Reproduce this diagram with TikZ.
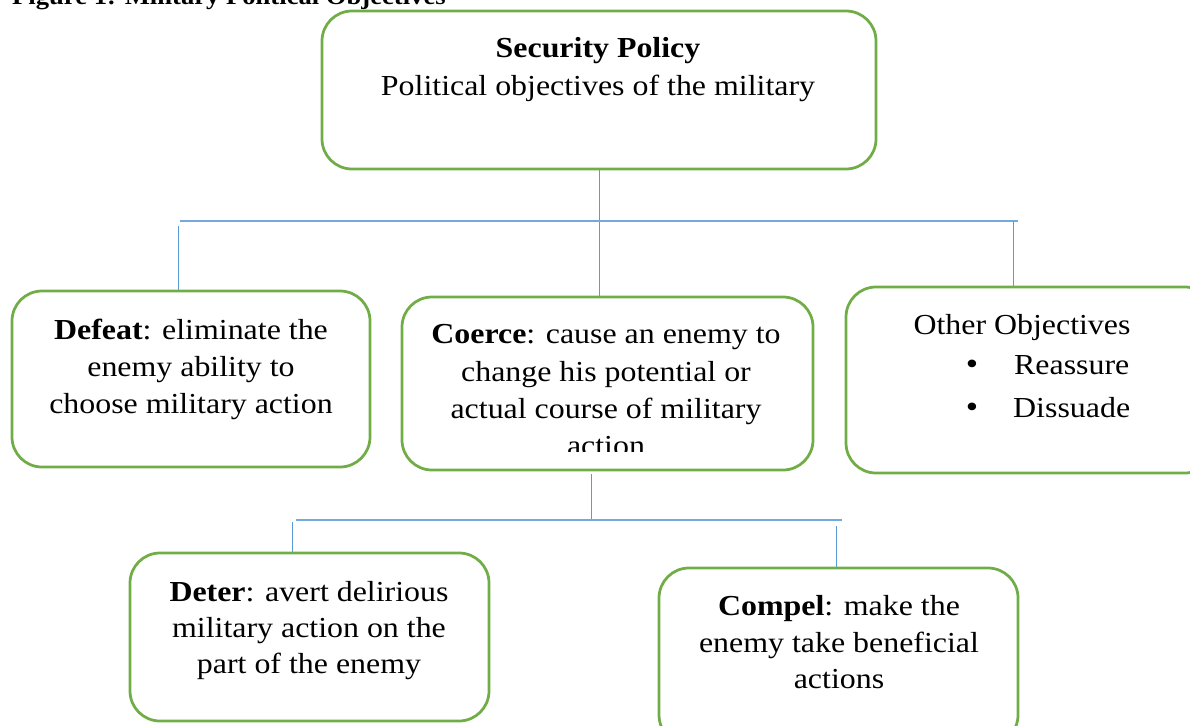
\documentclass[tikz,border=0pt]{standalone}
\usepackage{fontspec}
\setmainfont{Liberation Serif}[FakeStretch=1.1]
\definecolor{boxgreen}{HTML}{70AD47}
\definecolor{connblue}{HTML}{5B9BD5}
\newcommand{\bodyfont}{\fontsize{29}{37}\selectfont}
\newcommand{\titlefont}{\fontsize{24.2}{28}\selectfont\bfseries}
\tikzset{
  box/.style={rectangle, draw=boxgreen, line width=2.75pt, rounded corners=30pt, inner sep=0pt},
  conn/.style={draw=connblue, line width=1pt},
  hconn/.style={draw=connblue!85, line width=1.6pt},
  txt/.style={anchor=base, inner sep=0pt, font=\bodyfont},
  bul/.style={anchor=base, inner sep=0pt, font=\fontsize{32}{37}\selectfont},
}
\begin{document}
\begin{tikzpicture}[x=1pt,y=-1pt]
\useasboundingbox (0,0) rectangle (1190,725);

% title (cut at top)
\node[anchor=base west, inner sep=0pt, font=\titlefont] (title) at (12,5) {Figure 1: Military Political Objectives};

% boxes
\node[box, minimum width=554pt, minimum height=158pt] (top) at (599,90) {};
\node[box, minimum width=358pt, minimum height=176pt] (defeat) at (191,379) {};
\node[box, minimum width=411pt, minimum height=173pt] (coerce) at (607.5,383.5) {};
\node[box, minimum width=369pt, minimum height=186pt] (other) at (1030.5,380) {};
\node[box, minimum width=359pt, minimum height=168pt] (deter) at (309.5,637) {};
\node[box, minimum width=359pt, minimum height=177pt] (compel) at (838.5,656.5) {};

% texts
\node[txt] (t1) at (598,58) {\textbf{Security Policy}};
\node[txt] (t2) at (598,95) {Political objectives of the military};

\node[txt] (d1) at (191,339) {\textbf{Defeat}: eliminate the};
\node[txt] (d2) at (191,376) {enemy ability to};
\node[txt] (d3) at (191,413) {choose military action};

\node[txt] (c1) at (606,343) {\textbf{Coerce}: cause an enemy to};
\node[txt] (c2) at (606,381) {change his potential or};
\node[txt] (c3) at (606,418) {actual course of military};
\begin{scope}
  \clip (402,420) rectangle (813,451);
  \node[txt] (c4) at (606,455) {action};
\end{scope}

\node[txt] (o1) at (1022,334) {Other Objectives};
\node[bul] (b1) at (972,374) {•};
\node[txt, anchor=base west] (o2) at (1014,374) {Reassure};
\node[bul] (b2) at (972,417) {•};
\node[txt, anchor=base west] (o3) at (1013,417) {Dissuade};

\node[txt] (e1) at (309,601) {\textbf{Deter}: avert delirious};
\node[txt] (e2) at (309,637) {military action on the};
\node[txt] (e3) at (309,673) {part of the enemy};

\node[txt] (p1) at (839,615) {\textbf{Compel}: make the};
\node[txt] (p2) at (839,652) {enemy take beneficial};
\node[txt] (p3) at (839,688) {actions};

% connectors, upper level
\coordinate (hL) at (180,221);
\coordinate (hR) at (1018,221);
\coordinate (lT) at (178,226);
\coordinate (rT) at (1013,221);
\draw[conn] (top.south) -- (top.south |- coerce.north);
\draw[hconn] (hL) -- (hR);
\draw[conn] (lT) -- (lT |- defeat.north);
\draw[conn] (rT) -- (rT |- other.north);

% connectors, lower level
\coordinate (cS) at (591,474);
\coordinate (bJ) at (591,520);
\coordinate (bL) at (296,520);
\coordinate (bR) at (842,520);
\coordinate (lB) at (292,522);
\coordinate (rB) at (836,526);
\draw[conn] (cS) -- (bJ);
\draw[hconn] (bL) -- (bR);
\draw[conn] (lB) -- (lB |- deter.north);
\draw[conn] (rB) -- (rB |- compel.north);
\end{tikzpicture}
\end{document}
